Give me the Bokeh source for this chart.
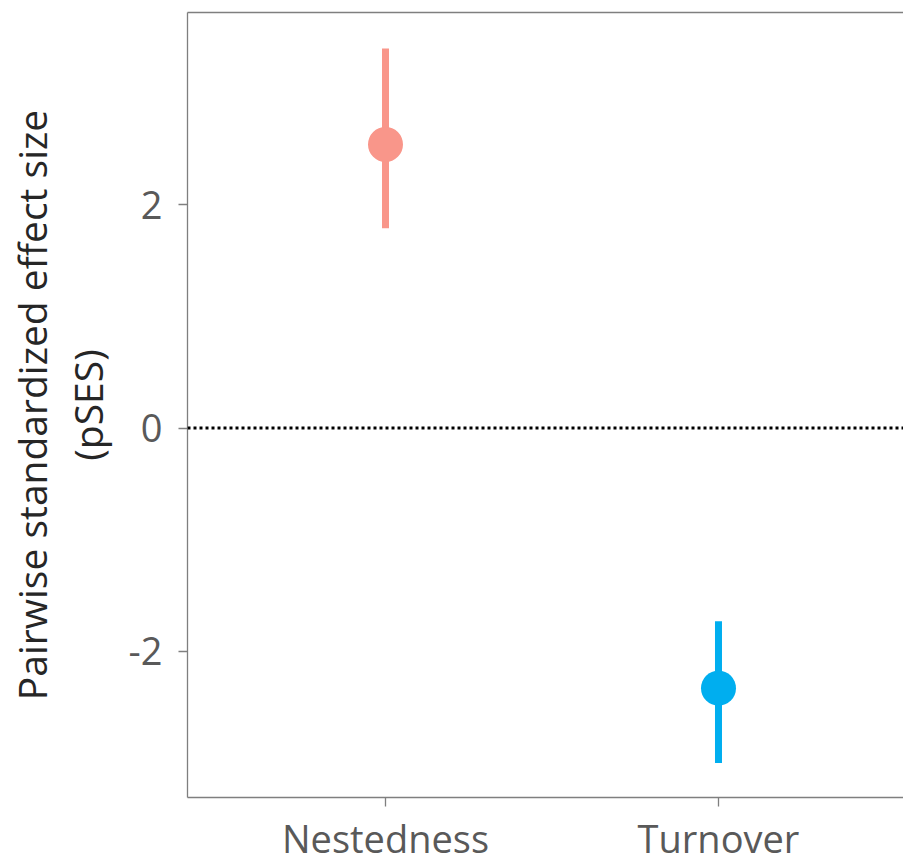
from bokeh.plotting import figure
from bokeh.models import ColumnDataSource, Range1d, Span, LinearAxis, FixedTicker
from bokeh.embed import file_html
from bokeh.resources import INLINE

categories = ["Nestedness", "Turnover"]
positions = [1, 2]
means = [2.54, -2.33]
lower = [1.79, -3.00]
upper = [3.40, -1.73]
colors = ["#F9968A", "#00AEEF"]
y_ticks = [-2, 0, 2]
y_tick_labels = {-2: "-2", 0: "0", 2: "2"}

src = ColumnDataSource(dict(x=positions, m=means, lo=lower, hi=upper, c=colors, cat=categories))

FONT = "Open Sans"
p = figure(width=903, height=866, output_backend="svg", toolbar_location=None,
           x_range=Range1d(0.4054, 2.5556), y_range=Range1d(-3.309, 3.722),
           min_border_left=187, min_border_right=0, min_border_top=12, min_border_bottom=69)
p.outline_line_color = None
p.grid.visible = False
p.background_fill_color = "white"

p.add_layout(Span(location=0, dimension="width", line_color="black", line_width=3, line_dash="3 3"))
p.segment(x0="x", y0="lo", x1="x", y1="hi", line_color="c", line_width=7, source=src)
p.scatter(x="x", y="m", size=35, fill_color="c", line_color=None, source=src)

for ax in (p.xaxis[0], p.yaxis[0]):
    ax.axis_line_color = "#7f7f7f"
    ax.axis_line_width = 1.3
    ax.major_tick_line_color = "#7f7f7f"
    ax.major_tick_line_width = 1.3
    ax.major_tick_out = 9
    ax.major_tick_in = 0
    ax.minor_tick_line_color = None
    ax.major_label_text_font = FONT
    ax.major_label_text_font_size = "38px"
    ax.major_label_text_color = "#595959"

p.xaxis.ticker = FixedTicker(ticks=positions)
p.xaxis.major_label_overrides = {pos: c for pos, c in zip(positions, categories)}
p.xaxis.major_label_standoff = 5

p.yaxis.ticker = FixedTicker(ticks=y_ticks)
p.yaxis.major_label_overrides = y_tick_labels
p.yaxis.major_label_standoff = 16
p.yaxis.axis_label = "Pairwise standardized effect size\n(pSES)"
p.yaxis.axis_label_text_font = FONT
p.yaxis.axis_label_text_font_size = "39px"
p.yaxis.axis_label_text_font_style = "normal"
p.yaxis.axis_label_text_color = "#262626"
p.yaxis.axis_label_text_line_height = 1.05
p.yaxis.axis_label_standoff = 12

top = LinearAxis(ticker=FixedTicker(ticks=[]), axis_line_color="#7f7f7f", axis_line_width=1.3,
                 major_tick_line_color=None, minor_tick_line_color=None,
                 major_label_text_font_size="0px")
p.add_layout(top, "above")

open("out.html", "w").write(file_html(p, INLINE))
